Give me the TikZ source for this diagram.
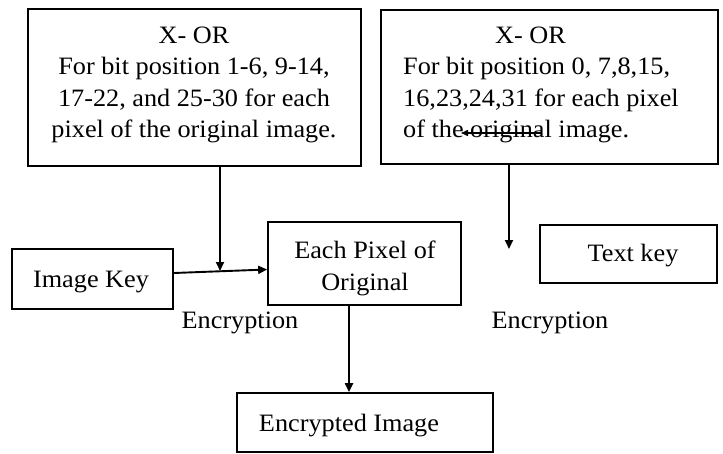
\documentclass[tikz,border=0pt]{standalone}
\usepackage{fontspec}
\setmainfont{Liberation Serif}[FakeStretch=1.05]
\usetikzlibrary{arrows.meta,calc}

\begin{document}
\begin{tikzpicture}[x=1pt,y=-1pt,
  box/.style={draw=black,line width=1.7pt,inner sep=0pt,fill=none},
  txt/.style={inner sep=0pt,font=\fontsize{25}{31.5}\selectfont},
  conn/.style={line width=1.9pt,-{Triangle[length=9pt,width=8pt]}},
  thinconn/.style={line width=1.5pt,-{Triangle[length=7pt,width=6pt]}}]

  % canvas
  \useasboundingbox (0,0) rectangle (723,453);
  \fill[white] (0,0) rectangle (723,453);

  % boxes
  \node[box,minimum width=333pt,minimum height=157pt] (xor1) at (194.5,87.5) {};
  \node[box,minimum width=337pt,minimum height=154pt] (xor2) at (549.5,87) {};
  \node[box,minimum width=161pt,minimum height=60pt] (imgkey) at (92.5,279) {};
  \node[box,minimum width=193pt,minimum height=83pt] (pixel) at (364.5,263.5) {};
  \node[box,minimum width=177pt,minimum height=58pt] (textkey) at (628.5,254) {};
  \node[box,minimum width=256pt,minimum height=59pt] (encimg) at (365,422.5) {};

  % box texts
  \node[txt,align=center,anchor=north] (xor1t) at (194,26.5)
    {X- OR\\ For bit position 1-6, 9-14,\\17-22, and 25-30 for each\\pixel of the original image.};
  \node[txt,align=left,anchor=north west] (xor2t) at (403,26.5)
    {\hspace*{92pt}X- OR\\For bit position 0, 7,8,15,\\16,23,24,31 for each pixel\\of the original image.};
  \node[txt,anchor=base] (imgkeyt) at (91,287) {Image Key};
  \node[txt,align=center,anchor=north] (pixelt) at (365,241) {Each Pixel of\\Original};
  \node[txt,anchor=base] (textkeyt) at (633,261) {Text key};
  \node[txt,anchor=base] (encimgt) at (349,431) {Encrypted Image};

  % free labels
  \node[txt,anchor=base] (enc1) at (240,328) {Encryption};
  \node[txt,anchor=base] (enc2) at (550,328) {Encryption};

  % connector end points
  \coordinate (join) at (220,271);
  \coordinate (drop2) at (509,249);
  \coordinate (smallA) at (542,133);
  \coordinate (smallB) at (461,133);

  % connectors
  \draw[conn] ([xshift=25.5pt]xor1.south) -- (join);
  \draw[conn] ($(imgkey.east)+(0,-6)$) -- ($(pixel.west)+(0,6)$);
  \draw[conn] ([xshift=-40.5pt]xor2.south) -- (drop2);
  \draw[conn] (pixel.south -| encimgt) -- (encimg.north -| encimgt);
  \draw[thinconn] (smallA) -- (smallB);
\end{tikzpicture}
\end{document}
